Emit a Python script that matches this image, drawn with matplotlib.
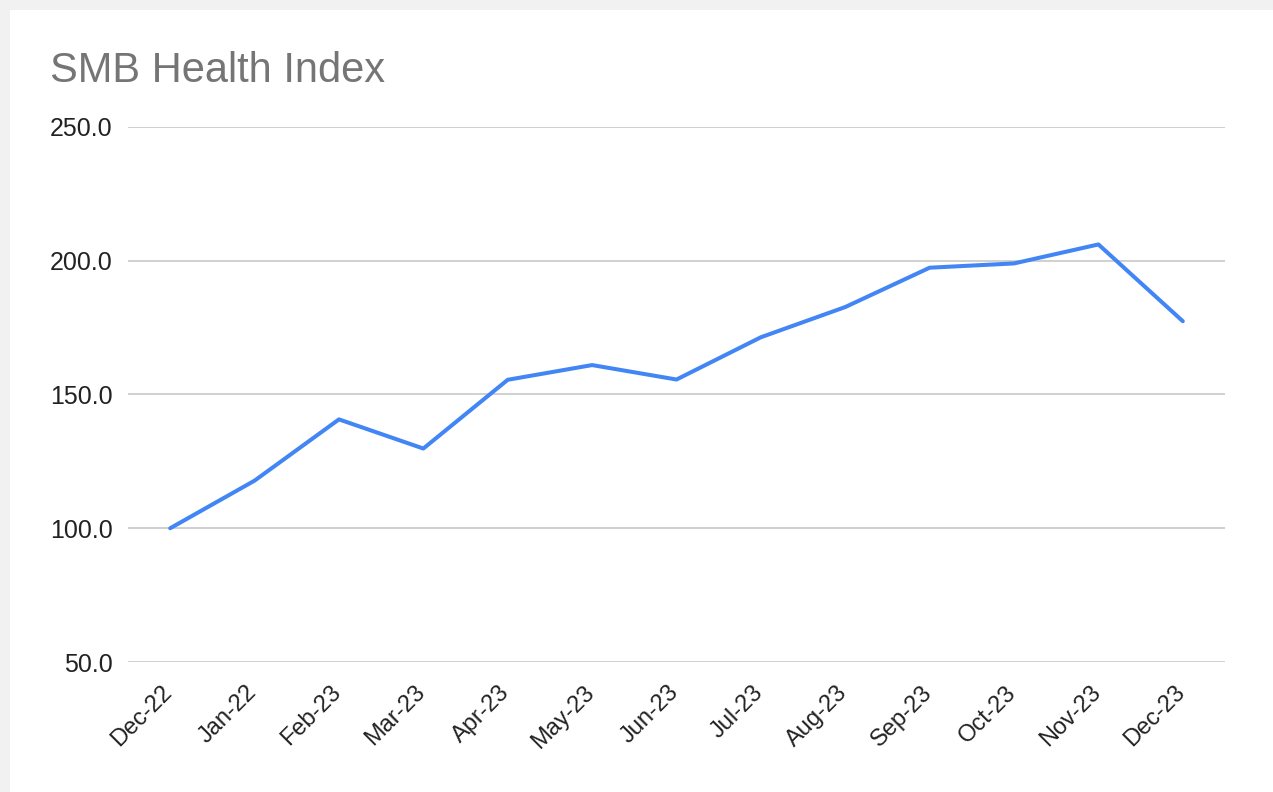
import matplotlib.pyplot as plt
from matplotlib.patches import Rectangle
from matplotlib.ticker import FormatStrFormatter
from matplotlib.transforms import ScaledTranslation

plt.rcParams['font.family'] = ['Liberation Sans', 'DejaVu Sans']

# monthly index values
months = ['Dec-22', 'Jan-22', 'Feb-23', 'Mar-23', 'Apr-23', 'May-23', 'Jun-23',
          'Jul-23', 'Aug-23', 'Sep-23', 'Oct-23', 'Nov-23', 'Dec-23']
index_values = [100, 117.8, 140.7, 129.8, 155.5, 161.0, 155.6,
                171.4, 182.7, 197.4, 199.0, 206.1, 177.4]
y_ticks = [50, 100, 150, 200, 250]

fig = plt.figure(figsize=(12.73, 7.92), dpi=100, facecolor='#f1f1f1')

# white card on the grey page, kept behind the axes
card = Rectangle((10 / 1273, 0), 1, 1 - 10 / 792, transform=fig.transFigure,
                 facecolor='white', edgecolor='none', zorder=-1)
fig.patches.append(card)

ax = fig.add_axes([128 / 1273, 1 - 662 / 792, 1097 / 1273, 535 / 792])
ax.set_facecolor('none')

x = list(range(len(months)))
ax.plot(x, index_values, color='#4285f4', lw=2.9, solid_joinstyle='round',
        solid_capstyle='round', zorder=3)

ax.set_xlim(-0.5, len(months) - 0.5)
ax.set_ylim(50, 250)
ax.set_yticks(y_ticks)
ax.yaxis.set_major_formatter(FormatStrFormatter('%.1f'))
ax.grid(axis='y', color='#c8c8c8', lw=1.2)
ax.set_axisbelow(True)

ax.set_xticks(x)
ax.set_xticklabels(months, rotation=45, ha='right', rotation_mode='anchor')
ax.tick_params(axis='x', length=0, pad=14, labelsize=17, labelcolor='#222222')
ax.tick_params(axis='y', length=0, pad=11, labelsize=18, labelcolor='#222222')

# nudge the slanted month labels so they end under their points
shift = ScaledTranslation(-9 / 100, 0, fig.dpi_scale_trans)
for lbl in ax.get_xticklabels():
    lbl.set_transform(lbl.get_transform() + shift)

for s in ax.spines.values():
    s.set_visible(False)

fig.text(50 / 1273, 1 - 82 / 792, 'SMB Health Index', fontsize=30,
         color='#757575', va='baseline', ha='left')

fig.savefig('out.png', dpi=100, facecolor=fig.get_facecolor())
